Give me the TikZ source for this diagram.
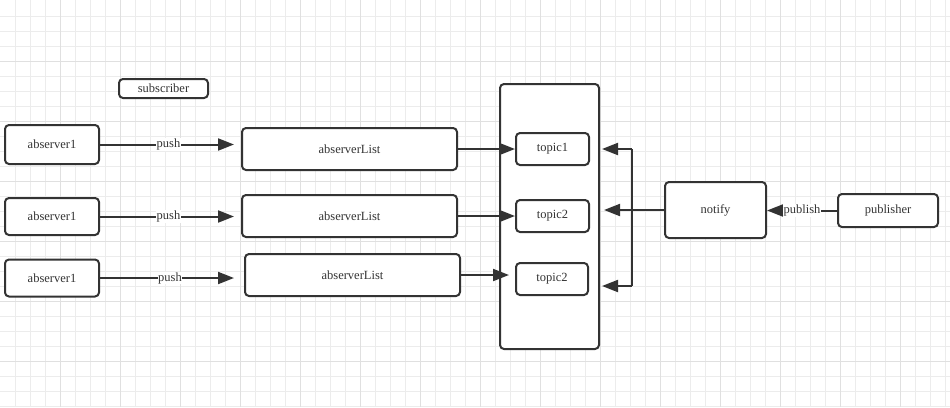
\documentclass[tikz,border=0pt]{standalone}
\usepackage{fontspec}
\setmainfont{Liberation Serif}
\usetikzlibrary{arrows.meta}
\definecolor{ink}{HTML}{333333}
\definecolor{gridminor}{HTML}{ECECEC}
\definecolor{gridmajor}{HTML}{E0E0E0}
\tikzset{
  box/.style={draw=ink, line width=2pt, rounded corners=4pt, fill=white, inner sep=0pt,
    text=ink, font=\fontsize{12.5}{14}\selectfont},
  conn/.style={draw=ink, line width=2pt},
  arr/.style={conn, -{Triangle[length=16pt,width=12pt]}},
  lbl/.style={fill=white, inner sep=0.5pt, text=ink, font=\fontsize{12.5}{14}\selectfont},
}
\begin{document}
\begin{tikzpicture}[x=1pt,y=-1pt]
\useasboundingbox (0,0) rectangle (950,407);
\fill[white] (0,0) rectangle (950,407);
% grid
\foreach \x in {15,30,...,945} \draw[gridminor, line width=1pt] (\x,0) -- (\x,407);
\foreach \y in {16,31,...,406} \draw[gridminor, line width=1pt] (0,\y) -- (950,\y);
\foreach \x in {60,120,...,900} \draw[gridmajor, line width=1pt] (\x,0) -- (\x,407);
\foreach \y in {61,121,...,361} \draw[gridmajor, line width=1pt] (0,\y) -- (950,\y);

% nodes
\node[box, minimum width=89pt, minimum height=19pt] (sub) at (163.5,88.5) {subscriber};
\node[box, minimum width=94pt, minimum height=39pt] (a1) at (52,144.5) {abserver1};
\node[box, minimum width=94pt, minimum height=37pt] (a2) at (52,216.5) {abserver1};
\node[box, minimum width=94pt, minimum height=37pt] (a3) at (52,278) {abserver1};
\node[box, minimum width=215pt, minimum height=42pt] (L1) at (349.5,149) {abserverList};
\node[box, minimum width=215pt, minimum height=42pt] (L2) at (349.5,216) {abserverList};
\node[box, minimum width=215pt, minimum height=42pt] (L3) at (352.5,275) {abserverList};
\node[box, minimum width=99pt, minimum height=265pt] (cont) at (549.5,216.5) {};
\node[box, minimum width=73pt, minimum height=32pt] (t1) at (552.5,149) {topic1};
\node[box, minimum width=73pt, minimum height=32pt] (t2) at (552.5,216) {topic2};
\node[box, minimum width=72pt, minimum height=32pt] (t3) at (552,279) {topic2};
\node[box, minimum width=101pt, minimum height=56pt] (notify) at (715.5,210) {notify};
\node[box, minimum width=100pt, minimum height=33pt] (pub) at (888,210.5) {publisher};

% push connectors
\draw[arr, shorten >=7pt] (a1.east) -- (a1.east -| L1.west) node[lbl, midway, xshift=-2pt] {push};
\draw[arr, shorten >=7pt] (a2.east) -- (a2.east -| L2.west) node[lbl, midway, xshift=-2pt] {push};
\draw[arr, shorten >=10pt] (a3.east) -- (a3.east -| L3.west) node[lbl, midway, xshift=-2pt] {push};

% list -> topic
\draw[arr] (L1.east) -- (L1.east -| t1.west);
\draw[arr] (L2.east) -- (L2.east -| t2.west);
\draw[arr, shorten >=6pt] (L3.east) -- (L3.east -| t3.west);

% publisher -> notify
\draw[arr] (pub.west) -- (pub.west -| notify.east) node[lbl, midway] {publish};

% notify -> topics
\coordinate (e2) at (604,210);
\coordinate (j1) at (632,149);
\coordinate (j3) at (632,286);
\coordinate (e1) at (602,149);
\coordinate (e3) at (602,286);
\draw[arr] (notify.west) -- (e2);
\draw[conn] (j1) -- (j3);
\draw[arr] (j1) -- (e1);
\draw[arr] (j3) -- (e3);
\end{tikzpicture}
\end{document}
